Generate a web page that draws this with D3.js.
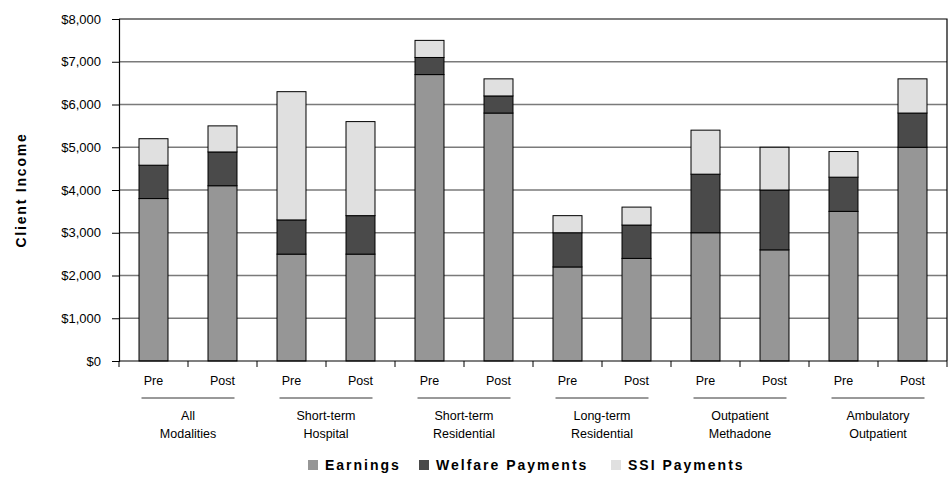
<!DOCTYPE html>
<html>
<head>
<meta charset="utf-8">
<script src="https://cdn.jsdelivr.net/npm/d3@7"></script>
<style>
  html, body { margin: 0; padding: 0; background: #fff; }
  svg text { font-family: "Liberation Sans", Arial, sans-serif; fill: #000; }
</style>
</head>
<body>
<svg id="chart" width="950" height="484"></svg>
<script>
// Treatment modalities, each measured before (Pre) and after (Post)
const groups = ["All\nModalities", "Short-term\nHospital", "Short-term\nResidential",
                "Long-term\nResidential", "Outpatient\nMethadone", "Ambulatory\nOutpatient"];
const periods = ["Pre", "Post"];

// Income components, in bar order (Pre, Post for each modality)
const earnings = [3800, 4100, 2500, 2500, 6700, 5800, 2200, 2400, 3000, 2600, 3500, 5000];
const welfare  = [ 780,  790,  800,  900,  400,  400,  800,  780, 1370, 1400,  800,  800];
const ssi      = [ 620,  610, 3000, 2200,  400,  400,  400,  420, 1030, 1000,  600,  800];

const seriesNames  = ["Earnings", "Welfare Payments", "SSI Payments"];
const seriesColors = ["#969696", "#4a4a4a", "#e0e0e0"];
const yTicks = [0, 1000, 2000, 3000, 4000, 5000, 6000, 7000, 8000];

const svg = d3.select("#chart");
const m = { left: 119, right: 3, top: 19, bottom: 123 };
const W = 950, H = 484;
const x0 = m.left, x1 = W - m.right, y0 = m.top, y1 = H - m.bottom;

// One band per bar: Pre/Post within every modality
const keys = [];
groups.forEach((g, gi) => periods.forEach((p, pi) => keys.push(gi * 2 + pi)));
const x = d3.scaleBand().domain(keys).range([x0, x1]).paddingInner(0.58).paddingOuter(0.29);
const y = d3.scaleLinear().domain([0, 8000]).range([y1, y0]);

const rows = keys.map(i => ({ key: i, Earnings: earnings[i], "Welfare Payments": welfare[i], "SSI Payments": ssi[i] }));
const stacked = d3.stack().keys(seriesNames)(rows);

// Gridlines
svg.append("g").selectAll("line").data(yTicks.slice(1, -1)).join("line")
  .attr("x1", x0).attr("x2", x1)
  .attr("y1", d => y(d)).attr("y2", d => y(d))
  .attr("stroke", "#7a7a7a").attr("stroke-width", 1.3);

// Plot frame (top and right)
svg.append("path")
  .attr("d", `M${x0},${y0}H${x1}V${y1}`)
  .attr("fill", "none").attr("stroke", "#000").attr("stroke-width", 1.2);

// Stacked bars
svg.append("g").selectAll("g").data(stacked).join("g")
  .attr("fill", (d, i) => seriesColors[i])
  .selectAll("rect").data(d => d).join("rect")
  .attr("x", d => x(d.data.key))
  .attr("width", x.bandwidth())
  .attr("y", d => y(d[1]))
  .attr("height", d => y(d[0]) - y(d[1]))
  .attr("stroke", "#000").attr("stroke-width", 1);

// Y axis
const yAxis = d3.axisLeft(y).tickValues(yTicks).tickSize(7).tickPadding(11)
  .tickFormat(d => "$" + d3.format(",")(d));
const gy = svg.append("g").attr("transform", `translate(${x0},0)`).call(yAxis);
gy.select(".domain").attr("stroke", "#000").attr("stroke-width", 1.2);
gy.selectAll(".tick line").attr("stroke", "#000");
gy.selectAll(".tick text").attr("font-size", 13).attr("font-family", "Liberation Sans, Arial, sans-serif");

// X axis: tick marks at every band boundary
const step = x.step();
const bounds = d3.range(keys.length + 1).map(i => x0 + i * step);
const gx = svg.append("g");
gx.append("line").attr("x1", x0).attr("x2", x1).attr("y1", y1).attr("y2", y1)
  .attr("stroke", "#000").attr("stroke-width", 1.2);
gx.selectAll("line.t").data(bounds).join("line").attr("class", "t")
  .attr("x1", d => d).attr("x2", d => d).attr("y1", y1).attr("y2", y1 + 6)
  .attr("stroke", "#000");

// Pre / Post labels
svg.append("g").selectAll("text").data(keys).join("text")
  .attr("x", d => x(d) + x.bandwidth() / 2)
  .attr("y", 385)
  .attr("text-anchor", "middle").attr("font-size", 12.5)
  .text(d => periods[d % 2]);

// Group underline and two-line modality names
const grp = svg.append("g").selectAll("g").data(groups).join("g");
grp.append("line")
  .attr("x1", (d, i) => x(i * 2) + x.bandwidth() / 2 - 12)
  .attr("x2", (d, i) => x(i * 2 + 1) + x.bandwidth() / 2 + 12)
  .attr("y1", 398).attr("y2", 398)
  .attr("stroke", "#000").attr("stroke-width", 0.8);
grp.append("text")
  .attr("text-anchor", "middle").attr("font-size", 12.5)
  .attr("transform", (d, i) => `translate(${(x(i * 2) + x(i * 2 + 1) + x.bandwidth()) / 2},0)`)
  .selectAll("tspan").data(d => d.split("\n")).join("tspan")
  .attr("x", 0).attr("y", (d, j) => 420 + j * 18)
  .text(d => d);

// Y axis title
svg.append("text")
  .attr("transform", `translate(26,${(y0 + y1) / 2}) rotate(-90)`)
  .attr("text-anchor", "middle").attr("font-size", 14).attr("font-weight", "bold")
  .attr("letter-spacing", 1.8)
  .text("Client Income");

// Legend
const legend = svg.append("g").attr("transform", "translate(308,470)");
const legendX = [0, 111, 303];
const li = legend.selectAll("g").data(seriesNames).join("g")
  .attr("transform", (d, i) => `translate(${legendX[i]},0)`);
li.append("rect").attr("x", 0).attr("y", -10).attr("width", 10).attr("height", 10)
  .attr("fill", (d, i) => seriesColors[i]);
li.append("text").attr("x", 17).attr("y", 0)
  .attr("font-size", 14).attr("font-weight", "bold").attr("letter-spacing", 2)
  .text(d => d);
</script>
</body>
</html>
